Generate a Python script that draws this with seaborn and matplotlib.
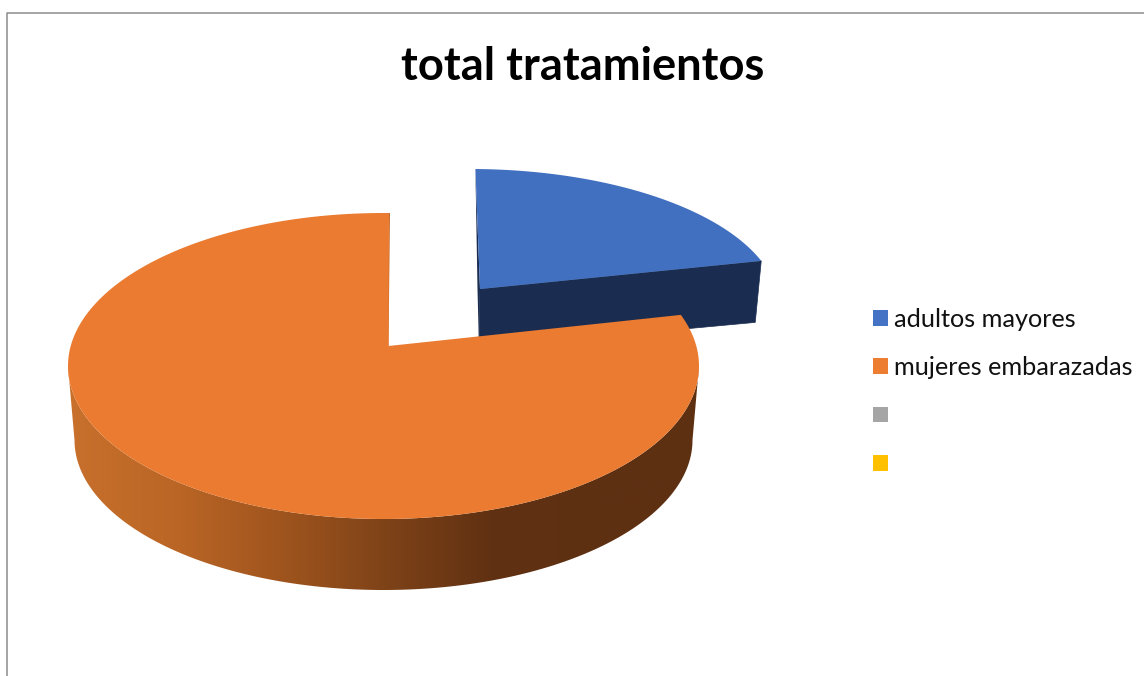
"""Pastel 3D "total tratamientos" dibujado con polígonos sobre un eje en píxeles."""
import matplotlib.pyplot as plt
import numpy as np
import seaborn as sns
from matplotlib.patches import Patch, Polygon

TITLE = "total tratamientos"
categories = ["adultos mayores", "mujeres embarazadas", "", ""]
values = [19.3, 80.7, 0, 0]
colors = ["#4472C4", "#ED7D31", "#A5A5A5", "#FFC000"]
face_blue = "#4170C0"
face_orange = "#EA7B30"
wall_blue = "#1A2C50"
inner_orange = "#C4692A"
side_orange = ["#C8702C", "#BB6626", "#A0551E", "#7F4318", "#613112", "#5E3012", "#5E3012"]

sns.set_theme(style="white")
plt.rcParams["font.family"] = ["Lato", "DejaVu Sans"]

W, H = 1144, 676
START = 89


def arc(cx, cy, rx, ry, t0, t1, n=240):
    t = np.radians(np.linspace(t0, t1, n))
    return np.column_stack([cx + rx * np.cos(t), cy - ry * np.sin(t)])


fig = plt.figure(figsize=(W / 100, H / 100), dpi=100, facecolor="white")
ax = fig.add_axes([0, 0, 1, 1])
ax.axis("off")

fractions = np.array(values) / sum(values)
split = START - 360 * fractions[0]

# porción azul, separada y un poco más lejos
blue_apex = np.array([480, 289])
blue_top = arc(470, 307, 309, 138, START, split)
drop_apex = np.array([-1, 59])
drop_edge = np.array([-6, 61.5])
ax.add_patch(Polygon([blue_apex, blue_top[-1], blue_top[-1] + drop_edge, blue_apex + drop_apex],
                     fc=wall_blue, ec=wall_blue, lw=0.5))
ax.add_patch(Polygon([blue_top[0], blue_apex, blue_apex + drop_apex, blue_apex + [-2.5, 0]],
                     fc=wall_blue, ec="none"))
ax.add_patch(Polygon(np.vstack([[blue_apex], blue_top]), fc=face_blue, ec="none"))

# lateral naranja con degradado
cx, cy, rx, ry = 383.5, 366, 315.5, 153
side = np.vstack([arc(cx, cy, rx, ry, 180, 360), arc(cx, 440, 309, 150, 360, 180)])
side_patch = Polygon(side, fc="none", ec="none")
ax.add_patch(side_patch)
shade = sns.blend_palette(side_orange, as_cmap=True)
img = ax.imshow(np.linspace(0, 1, 256)[None, :], cmap=shade, aspect="auto",
                extent=[68, 700, 595, 360], zorder=1)
img.set_clip_path(side_patch)

# cara superior naranja
apex = np.array([386, 346])
top = arc(cx, cy, rx, ry, split, START - 360)
ax.add_patch(Polygon([top[-1], top[-1] + [1, 0], apex + [2.5, 0], apex], fc=inner_orange, ec="none", zorder=2))
ax.add_patch(Polygon(np.vstack([[apex + [2.5, 0]], top]), fc=face_orange, ec="none", zorder=3))

ax.set_xlim(0, W)
ax.set_ylim(H, 0)

# marco del gráfico, sólo se ven dos lados
ax.plot([7, 7, W], [H, 12.5, 12.5], color="#8C8C8C", lw=1.1, zorder=4)

ax.text(582.5, 80, TITLE, ha="center", va="baseline", fontsize=32.6, fontweight="bold", color="black")

handles = [Patch(fc=c, ec="none") for c in colors]
font_px = 18.15 * 100 / 72
ax.legend(handles, categories, loc="upper left", bbox_to_anchor=(873 / W, 1 - 308 / H),
          frameon=False, fontsize=18.15, labelcolor="#111111",
          handlelength=15 / font_px, handleheight=15 / font_px, handletextpad=6 / font_px,
          labelspacing=1.0, borderpad=0, borderaxespad=0)

fig.savefig("out.png", dpi=100)
